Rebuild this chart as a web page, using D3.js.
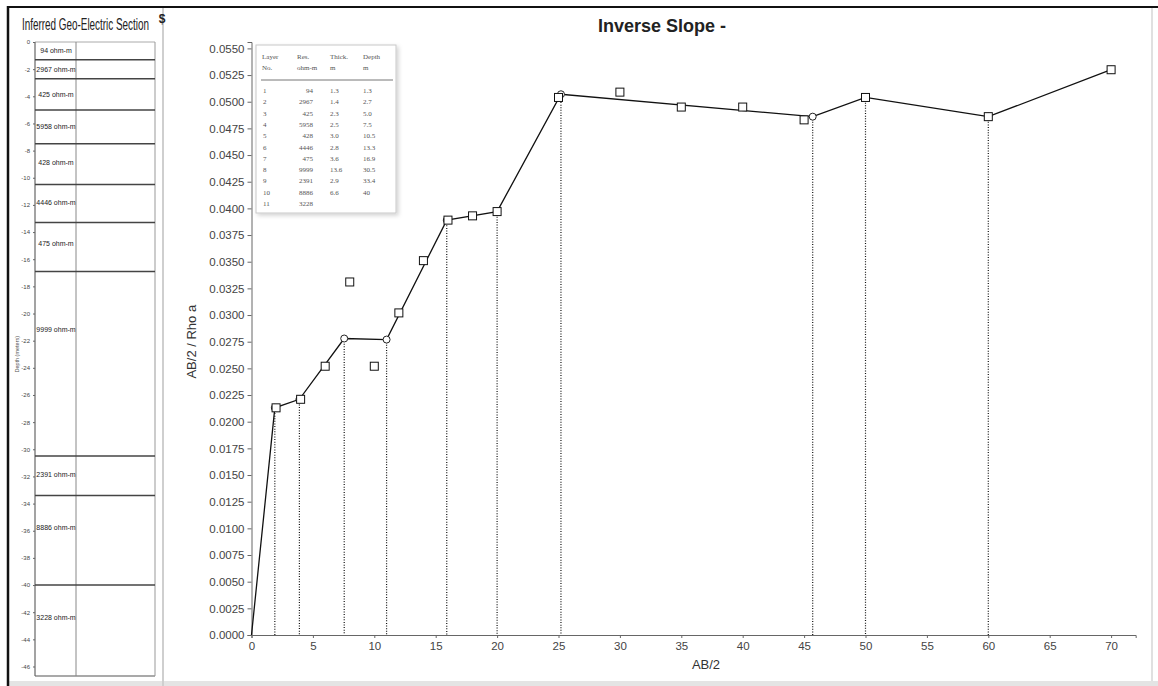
<!DOCTYPE html>
<html>
<head>
<meta charset="utf-8">
<script src="https://cdn.jsdelivr.net/npm/d3@7/dist/d3.min.js"></script>
<style>
  html, body { margin: 0; padding: 0; background: #fff; }
  svg { display: block; }
  .ax text { font-family: "Liberation Sans", Arial, sans-serif; fill: #444; }
  .ax path, .ax line { stroke: #666; }
</style>
</head>
<body>
<svg id="chart" width="1158" height="686"></svg>
<script>
// ---- sounding data: AB/2 (m) against AB/2 / apparent resistivity ----
const abHalf = [2, 4, 6, 8, 10, 12, 14, 16, 18, 20, 25, 30, 35, 40, 45, 50, 60, 70];
const inverseSlope = [0.0213, 0.0221, 0.0252, 0.0331, 0.0252, 0.0302, 0.0351, 0.0389, 0.0393, 0.0397,
                      0.0504, 0.0509, 0.0495, 0.0495, 0.0483, 0.0504, 0.0486, 0.0530];

// fitted straight-line segments (break points)
const fitAbHalf = [0, 1.9, 3.9, 7.55, 11, 15.9, 20, 25.2, 45.7, 50, 60, 70];
const fitSlope  = [0, 0.0213, 0.0221, 0.0278, 0.0277, 0.0389, 0.0397, 0.0507, 0.0486, 0.0504, 0.0486, 0.0530];

// interpreted layers
const layerNo     = [1, 2, 3, 4, 5, 6, 7, 8, 9, 10, 11];
const resistivity = [94, 2967, 425, 5958, 428, 4446, 475, 9999, 2391, 8886, 3228];
const thickness   = [1.3, 1.4, 2.3, 2.5, 3.0, 2.8, 3.6, 13.6, 2.9, 6.6];
const depthBottom = [1.3, 2.7, 5.0, 7.5, 10.5, 13.3, 16.9, 30.5, 33.4, 40];

// axis ticks
const xTicks = d3.range(0, 71, 5);
const yTicks = d3.range(0, 0.05501, 0.0025);
const depthTicks = d3.range(0, 47, 2);

const svg = d3.select("#chart");
const W = 1158, H = 686;

// ---------- page frame ----------
svg.append("rect").attr("x", 8).attr("y", 681).attr("width", W - 8).attr("height", 5).attr("fill", "#e4e4e4");
svg.append("line").attr("x1", 163).attr("x2", 163).attr("y1", 8).attr("y2", 686)
   .attr("stroke", "#cfcfcf").attr("stroke-width", 2);
svg.append("line").attr("x1", 1152).attr("x2", 1152).attr("y1", 8).attr("y2", 681)
   .attr("stroke", "#d6d6d6").attr("stroke-width", 1.5);
svg.append("line").attr("x1", 8).attr("x2", W).attr("y1", 7).attr("y2", 7)
   .attr("stroke", "#111").attr("stroke-width", 2);
svg.append("line").attr("x1", 8).attr("x2", 8).attr("y1", 6).attr("y2", H)
   .attr("stroke", "#111").attr("stroke-width", 2.5);
svg.append("text").attr("x", 162).attr("y", 23).attr("text-anchor", "middle")
   .attr("font-family", "Liberation Sans, Arial, sans-serif").attr("font-weight", "bold")
   .attr("font-size", 12).attr("fill", "#222").text("$");

// ---------- geo-electric section panel ----------
const sec = svg.append("g");
sec.append("text").attr("transform", "translate(22,30) scale(0.6,1)")
   .attr("font-family", "Liberation Sans, Arial, sans-serif").attr("font-size", 16.5)
   .attr("fill", "#222").text("Inferred Geo-Electric Section");

const secLeft = 35, secMid = 76, secRight = 155, secTop = 42, secBottom = 676;
const dy = d3.scaleLinear().domain([0, 46.7]).range([secTop, secBottom]);

sec.append("line").attr("x1", secLeft).attr("x2", secRight).attr("y1", secTop).attr("y2", secTop)
   .attr("stroke", "#aaa");
sec.append("line").attr("x1", secLeft).attr("x2", secRight).attr("y1", secBottom).attr("y2", secBottom)
   .attr("stroke", "#555").attr("stroke-width", 1.2);
sec.append("line").attr("x1", secLeft).attr("x2", secLeft).attr("y1", secTop).attr("y2", secBottom)
   .attr("stroke", "#666").attr("stroke-width", 1.2);
sec.append("line").attr("x1", secMid).attr("x2", secMid).attr("y1", secTop).attr("y2", secBottom)
   .attr("stroke", "#888");
sec.append("line").attr("x1", secRight).attr("x2", secRight).attr("y1", secTop).attr("y2", secBottom)
   .attr("stroke", "#999");

// depth ticks
const depthAxis = d3.axisLeft(dy).tickValues(depthTicks).tickSize(2)
  .tickFormat(d => d === 0 ? "0" : "-" + d);
const dg = sec.append("g").attr("class", "ax").attr("transform", `translate(${secLeft},0)`).call(depthAxis);
dg.select(".domain").remove();
dg.selectAll("text").attr("font-size", 6).attr("fill", "#666");
dg.selectAll("line").attr("stroke", "#999");

sec.append("text")
   .attr("transform", `translate(19,${dy(23)}) rotate(-90)`)
   .attr("text-anchor", "middle").attr("font-family", "Liberation Sans, Arial, sans-serif")
   .attr("font-size", 5.5).attr("fill", "#555").text("Depth (meters)");

// layer boundaries
sec.selectAll(".bnd").data(depthBottom).join("line")
   .attr("x1", secLeft).attr("x2", secRight)
   .attr("y1", d => dy(d)).attr("y2", d => dy(d))
   .attr("stroke", "#444").attr("stroke-width", 1.5);

// layer resistivity labels
const layerTop = layerNo.map((n, i) => i === 0 ? 0 : depthBottom[i - 1]);
const layerBot = layerNo.map((n, i) => i < depthBottom.length ? depthBottom[i] : 46.7);
sec.selectAll(".lbl").data(layerNo).join("text")
   .attr("x", 56)
   .attr("y", (n, i) => {
     const t = dy(layerTop[i]), h = dy(layerBot[i]) - t;
     return t + Math.min(h / 2, 8 + 0.27 * h);
   })
   .attr("dy", "0.35em").attr("text-anchor", "middle")
   .attr("font-family", "Liberation Sans, Arial, sans-serif").attr("font-size", 7)
   .attr("fill", "#222")
   .text((n, i) => resistivity[i] + " ohm-m");

// ---------- inverse slope chart ----------
const x = d3.scaleLinear().domain([0, 72]).range([251.5, 251.5 + 72 * 12.28]);
const y = d3.scaleLinear().domain([0, 0.0556]).range([635, 42]);

svg.append("text").attr("x", 662).attr("y", 32).attr("text-anchor", "middle")
   .attr("font-family", "Liberation Sans, Arial, sans-serif").attr("font-weight", "bold")
   .attr("font-size", 18).attr("fill", "#222").text("Inverse Slope -");

const yAxis = d3.axisLeft(y).tickValues(yTicks).tickSize(4).tickPadding(3).tickFormat(d3.format(".4f"));
const gy = svg.append("g").attr("class", "ax").attr("transform", `translate(${x(0)},0)`).call(yAxis);
gy.selectAll("text").attr("font-size", 11.5);

const xAxis = d3.axisBottom(x).tickValues(xTicks).tickSize(3).tickPadding(4).tickFormat(d3.format("d"));
const gx = svg.append("g").attr("class", "ax").attr("transform", `translate(0,${y(0)})`).call(xAxis);
gx.selectAll("text").attr("font-size", 11.5);

svg.append("text").attr("x", 706).attr("y", 669).attr("text-anchor", "middle")
   .attr("font-family", "Liberation Sans, Arial, sans-serif").attr("font-size", 13)
   .attr("fill", "#333").text("AB/2");
svg.append("text").attr("transform", `translate(196,${y(0.0275)}) rotate(-90)`)
   .attr("text-anchor", "middle").attr("font-family", "Liberation Sans, Arial, sans-serif")
   .attr("font-size", 13).attr("fill", "#333").text("AB/2 / Rho a");

// dotted drops from the break points
const fitPts = fitAbHalf.map((v, i) => ({ x: v, y: fitSlope[i] }));
svg.selectAll(".drop").data(fitPts.slice(1, -1)).join("line")
   .attr("x1", d => x(d.x)).attr("x2", d => x(d.x))
   .attr("y1", d => y(d.y)).attr("y2", y(0))
   .attr("stroke", "#111").attr("stroke-width", 1.2).attr("stroke-dasharray", "1,1.6");

// fitted segments
svg.append("path").datum(fitPts)
   .attr("d", d3.line().x(d => x(d.x)).y(d => y(d.y)))
   .attr("fill", "none").attr("stroke", "#111").attr("stroke-width", 1.3);

svg.selectAll(".brk").data(fitPts.slice(1)).join("circle")
   .attr("cx", d => x(d.x)).attr("cy", d => y(d.y)).attr("r", 3.5)
   .attr("fill", "#fff").attr("stroke", "#222").attr("stroke-width", 1);

// observed points
const obs = abHalf.map((v, i) => ({ x: v, y: inverseSlope[i] }));
svg.selectAll(".obs").data(obs).join("rect")
   .attr("x", d => x(d.x) - 4).attr("y", d => y(d.y) - 4)
   .attr("width", 8).attr("height", 8)
   .attr("fill", "#fff").attr("stroke", "#111").attr("stroke-width", 1);

// ---------- layer table ----------
const defs = svg.append("defs");
const f = defs.append("filter").attr("id", "shadow").attr("x", "-10%").attr("y", "-10%").attr("width", "130%").attr("height", "130%");
f.append("feDropShadow").attr("dx", 2).attr("dy", 2).attr("stdDeviation", 2).attr("flood-color", "#000").attr("flood-opacity", 0.18);

const tb = svg.append("g");
tb.append("rect").attr("x", 256).attr("y", 45).attr("width", 140).attr("height", 168)
  .attr("fill", "#fff").attr("stroke", "#c8c8c8").attr("filter", "url(#shadow)");
tb.append("line").attr("x1", 261).attr("x2", 393).attr("y1", 80).attr("y2", 80).attr("stroke", "#777");

const tf = "Liberation Serif, Times New Roman, serif";
const colX = [262, 297, 330, 363];
const head1 = ["Layer", "Res.", "Thick.", "Depth"];
const head2 = ["No.", "ohm-m", "m", "m"];
tb.selectAll(".h1").data(head1).join("text").attr("x", (d, i) => colX[i]).attr("y", 59)
  .attr("font-family", tf).attr("font-size", 7).attr("fill", "#555").text(d => d);
tb.selectAll(".h2").data(head2).join("text").attr("x", (d, i) => colX[i]).attr("y", 70)
  .attr("font-family", tf).attr("font-size", 7).attr("fill", "#555").text(d => d);

const rowY = i => 93 + i * 11.3;
const fmtDepth = v => (v % 1 === 0 && v >= 10) ? d3.format("d")(v) : v.toFixed(1);
const rows = tb.selectAll(".row").data(layerNo).join("g");
rows.append("text").attr("x", colX[0] + 1).attr("y", (d, i) => rowY(i))
  .attr("font-family", tf).attr("font-size", 7).attr("fill", "#555").text(d => d);
rows.append("text").attr("x", 313).attr("y", (d, i) => rowY(i)).attr("text-anchor", "end")
  .attr("font-family", tf).attr("font-size", 7).attr("fill", "#555").text((d, i) => resistivity[i]);
rows.append("text").attr("x", colX[2]).attr("y", (d, i) => rowY(i))
  .attr("font-family", tf).attr("font-size", 7).attr("fill", "#555")
  .text((d, i) => i < thickness.length ? thickness[i].toFixed(1) : "");
rows.append("text").attr("x", colX[3]).attr("y", (d, i) => rowY(i))
  .attr("font-family", tf).attr("font-size", 7).attr("fill", "#555")
  .text((d, i) => i < depthBottom.length ? fmtDepth(depthBottom[i]) : "");
</script>
</body>
</html>
